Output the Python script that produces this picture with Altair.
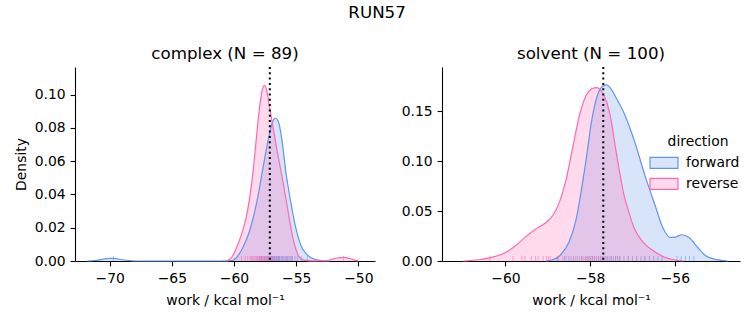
import altair as alt
import pandas as pd

BLUE = "#6495ED"
PINK = "#FF69B4"
BLUE_FILL = "rgba(100,149,237,0.25)"
PINK_FILL = "rgba(255,105,180,0.25)"
FONT = "DejaVu Sans"
DIRECTIONS = ["forward", "reverse"]

# ---------------- complex panel (N = 89) ----------------
complex_fwd_x = [-71.8, -71.2, -70.6, -70.0, -69.6, -69.1, -68.5, -67.8, -61.0, -60.2, -59.7, -59.3,
                 -58.75, -58.1, -57.6, -57.1, -56.85, -56.65, -56.4, -56.15, -55.8, -55.45, -55.0,
                 -54.6, -54.15, -53.5, -52.8, -52.3]
complex_fwd_d = [0.0, 0.0003, 0.0010, 0.0016, 0.0016, 0.0009, 0.0003, 0.0, 0.0, 0.0003, 0.003, 0.008,
                 0.018, 0.038, 0.059, 0.078, 0.0845, 0.0858, 0.083, 0.073, 0.052, 0.036, 0.019,
                 0.009, 0.004, 0.001, 0.0002, 0.0]
complex_rev_x = [-60.6, -60.2, -59.8, -59.4, -59.0, -58.7, -58.45, -58.2, -57.95, -57.75, -57.55,
                 -57.35, -57.15, -56.85, -56.55, -56.3, -56.0, -55.7, -55.4, -55.1, -54.8, -54.4,
                 -53.5, -52.6, -52.2, -51.7, -51.2, -50.7, -50.3, -50.0]
complex_rev_d = [0.0, 0.002, 0.008, 0.016, 0.027, 0.040, 0.055, 0.074, 0.092, 0.102, 0.1055,
                 0.102, 0.093, 0.080, 0.067, 0.057, 0.045, 0.032, 0.019, 0.009, 0.003, 0.0005,
                 0.0, 0.0002, 0.0008, 0.0018, 0.0022, 0.0015, 0.0005, 0.0]
complex_rug_fwd = [-69.7, -58.1, -57.9, -57.8, -57.6, -57.5, -57.4, -57.3, -57.2, -57.1, -57.0,
                   -56.95, -56.9, -56.8, -56.75, -56.7, -56.6, -56.55, -56.5, -56.4, -56.35, -56.3,
                   -56.2, -56.1, -56.0, -55.9, -55.8, -55.7, -55.6, -55.5, -55.4, -55.3, -55.1,
                   -54.9, -54.6, -54.1]
complex_rug_rev = [-59.4, -59.1, -58.9, -58.7, -58.6, -58.5, -58.4, -58.3, -58.2, -58.1, -58.0,
                   -57.95, -57.9, -57.8, -57.75, -57.7, -57.6, -57.55, -57.5, -57.4, -57.3, -57.2,
                   -57.1, -57.0, -56.9, -56.8, -56.6, -56.4, -56.1, -55.8, -55.4, -51.2]
complex_vline = -57.12

# ---------------- solvent panel (N = 100) ----------------
solvent_fwd_x = [-59.05, -58.9, -58.7, -58.5, -58.33, -58.2, -58.08, -57.97, -57.85, -57.72, -57.62,
                 -57.5, -57.38, -57.18, -56.95, -56.71, -56.47, -56.28, -56.12, -55.98, -55.84,
                 -55.65, -55.45, -55.25, -55.0, -54.75]
solvent_fwd_d = [0.0, 0.001, 0.006, 0.019, 0.042, 0.073, 0.106, 0.139, 0.163, 0.1745, 0.1763,
                 0.172, 0.163, 0.1463, 0.1197, 0.0863, 0.0563, 0.033, 0.0237, 0.024, 0.0263,
                 0.023, 0.013, 0.0047, 0.0013, 0.0]
solvent_rev_x = [-61.0, -60.6, -60.33, -60.02, -59.78, -59.54, -59.31, -59.03, -58.87, -58.72,
                 -58.56, -58.4, -58.25, -58.09, -57.95, -57.85, -57.73, -57.6, -57.5, -57.4, -57.3,
                 -57.2, -57.08, -56.95, -56.75, -56.5, -56.25, -56.0, -55.8]
solvent_rev_d = [0.0, 0.0015, 0.0037, 0.008, 0.0147, 0.0237, 0.0313, 0.039, 0.0463, 0.0597,
                 0.083, 0.1163, 0.1463, 0.1663, 0.1727, 0.1737, 0.170, 0.158, 0.140, 0.113, 0.088,
                 0.066, 0.048, 0.032, 0.019, 0.010, 0.004, 0.001, 0.0]
solvent_rug_fwd = [-58.76, -58.6, -58.5, -58.4, -58.3, -58.2, -58.1, -58.05, -58.0, -57.95, -57.9,
                   -57.85, -57.8, -57.75, -57.7, -57.65, -57.6, -57.55, -57.5, -57.45, -57.4,
                   -57.35, -57.3, -57.2, -57.1, -57.0, -56.9, -56.8, -56.7, -56.6, -56.5, -56.4,
                   -56.3, -55.95, -55.85, -55.75, -55.65, -55.55]
solvent_rug_rev = [-60.37, -59.82, -59.61, -59.54, -59.39, -59.29, -59.23, -59.11, -59.03, -58.98,
                   -58.94, -58.76, -58.64, -58.56, -58.45, -58.35, -58.25, -58.2, -58.15, -58.1,
                   -58.05, -58.0, -57.95, -57.9, -57.85, -57.8, -57.75, -57.7, -57.6, -57.5, -57.4,
                   -57.3, -57.1, -56.9, -56.72]
solvent_vline = -57.69

# axis settings
complex_xdom = [-72.79, -48.66]
complex_ydom = [0, 0.1166]
complex_xticks = [-70, -65, -60, -55, -50]
complex_yticks = [0.0, 0.02, 0.04, 0.06, 0.08, 0.10]
solvent_xdom = [-61.50, -54.46]
solvent_ydom = [0, 0.1943]
solvent_xticks = [-60, -58, -56]
solvent_yticks = [0.0, 0.05, 0.10, 0.15]

PLOT_H = 194
RUG_H = 5
SWATCH = "M-2,-0.78L2,-0.78L2,0.78L-2,0.78Z"


def make_legend(show):
    if not show:
        return None
    return alt.Legend(
        title="direction", orient="none", legendX=214, legendY=68,
        symbolType=SWATCH, symbolSize=196, symbolStrokeWidth=1.2, symbolOpacity=1,
        labelFont=FONT, labelFontSize=13.9, labelColor="black", titleFont=FONT,
        titleFontSize=13.9, titleFontWeight="normal", titleColor="black",
        titleAnchor="middle", titlePadding=6, rowPadding=5, labelOffset=14, padding=0,
        symbolOffset=0,
    )


def panel(fx, fd, rx, rd, rug_f, rug_r, vline, xdom, ydom, xticks, yticks, title, ytitle,
          show_legend, width):
    curves = pd.concat([
        pd.DataFrame({"work": fx, "density": fd, "direction": "forward"}),
        pd.DataFrame({"work": rx, "density": rd, "direction": "reverse"}),
    ])
    rugs = pd.concat([
        pd.DataFrame({"work": rug_f, "direction": "forward"}),
        pd.DataFrame({"work": rug_r, "direction": "reverse"}),
    ])
    leg = make_legend(show_legend)
    fscale = alt.Scale(domain=DIRECTIONS, range=[BLUE_FILL, PINK_FILL])
    sscale = alt.Scale(domain=DIRECTIONS, range=[BLUE, PINK])
    x = alt.X("work:Q", scale=alt.Scale(domain=xdom, nice=False, zero=False),
              axis=alt.Axis(values=xticks, format="d", title="work / kcal mol⁻¹"))
    y = alt.Y("density:Q", stack=None, scale=alt.Scale(domain=ydom, nice=False, zero=False),
              axis=alt.Axis(values=yticks, format=".2f", title=ytitle))
    base = alt.Chart(curves)
    area = base.mark_area(interpolate="monotone").encode(
        x=x, y=y, fill=alt.Fill("direction:N", scale=fscale, legend=leg))
    line = base.mark_line(strokeWidth=1.2, interpolate="monotone").encode(
        x=x, y=y, stroke=alt.Stroke("direction:N", scale=sscale, legend=leg))
    rug = alt.Chart(rugs).mark_rule(strokeWidth=1, strokeOpacity=0.55).encode(
        x=alt.X("work:Q"), y=alt.value(PLOT_H), y2=alt.value(PLOT_H - RUG_H),
        stroke=alt.Stroke("direction:N", scale=sscale, legend=leg))
    vl = alt.Chart(pd.DataFrame({"work": [vline]})).mark_rule(
        color="black", strokeWidth=2, strokeDash=[2, 3.3]).encode(x=alt.X("work:Q"))
    return alt.layer(area, line, rug, vl).properties(
        width=width, height=PLOT_H,
        title=alt.TitleParams(title, font=FONT, fontSize=16.7, fontWeight="normal",
                              color="black", anchor="middle", offset=3))


left = panel(complex_fwd_x, complex_fwd_d, complex_rev_x, complex_rev_d, complex_rug_fwd,
             complex_rug_rev, complex_vline, complex_xdom, complex_ydom, complex_xticks,
             complex_yticks, "complex (N = 89)", "Density", False, 300)
right = panel(solvent_fwd_x, solvent_fwd_d, solvent_rev_x, solvent_rev_d, solvent_rug_fwd,
              solvent_rug_rev, solvent_vline, solvent_xdom, solvent_ydom, solvent_xticks,
              solvent_yticks, "solvent (N = 100)", None, True, 298)

chart = alt.hconcat(left, right, spacing=26).resolve_scale(
    fill="independent", stroke="independent").properties(
    title=alt.TitleParams("RUN57", font=FONT, fontSize=16.7, fontWeight="normal",
                          color="black", anchor="middle", offset=25),
    padding={"left": 14, "top": 4, "right": 5, "bottom": 5},
    background="white",
).configure_view(stroke=None).configure_axis(
    labelFont=FONT, labelFontSize=13.9, labelColor="black", titleFont=FONT,
    titleFontSize=13.9, titleFontWeight="normal", titleColor="black", domainColor="black",
    domainWidth=1.1, tickColor="black", tickWidth=1.1, tickSize=4.9,
    grid=False,
).configure_axisX(labelFlush=False, labelPadding=6, titlePadding=8).configure_axisY(
    labelFlush=False, labelPadding=5, titlePadding=6)

chart.save("out.html", embed_options={"renderer": "svg", "actions": False})
